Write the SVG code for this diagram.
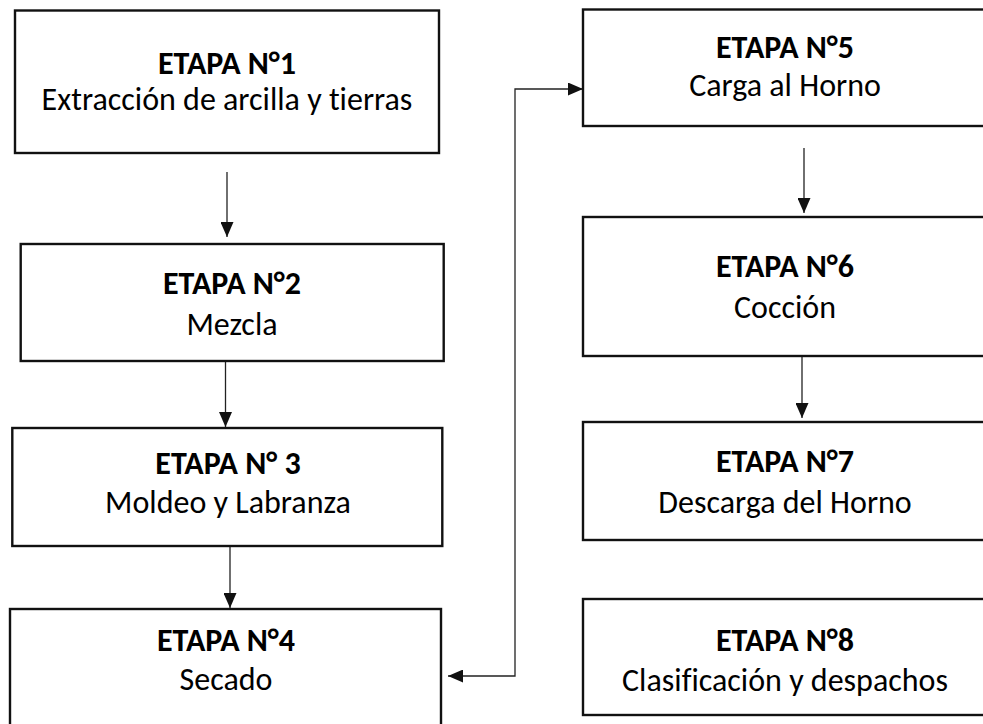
<svg xmlns="http://www.w3.org/2000/svg" width="983" height="724" viewBox="0 0 983 724">
<style>
.box{fill:#fff;stroke:#111;stroke-width:2.4}
.t{font-family:Carlito,Lato,"Liberation Sans",sans-serif;font-size:32px;fill:#000;text-anchor:middle;font-variant-ligatures:none;font-feature-settings:"liga" 0,"clig" 0}
.b{font-weight:bold}
.c{fill:none;stroke:#222;stroke-width:1.3}
</style>
<defs>
<marker id="ah" viewBox="0 0 15 13" refX="15" refY="6.5" markerWidth="15" markerHeight="13" markerUnits="userSpaceOnUse" orient="auto-start-reverse">
<path d="M0,0 L15,6.5 L0,13 z" fill="#111"/>
</marker>
</defs>
<rect width="983" height="724" fill="#fff"/>
<g id="connectors">
<path class="c" d="M227,172 V237" marker-end="url(#ah)"/>
<path class="c" d="M225.5,361 V427" marker-end="url(#ah)"/>
<path class="c" d="M230,544 V608" marker-end="url(#ah)"/>
<path class="c" d="M804,148 V213" marker-end="url(#ah)"/>
<path class="c" d="M802,355 V418" marker-end="url(#ah)"/>
<path class="c" d="M448,676 H515 V89 H583" marker-start="url(#ah)" marker-end="url(#ah)"/>
</g>
<g id="n1">
<rect class="box" x="15" y="10.5" width="424" height="142.5"/>
<text class="t b" x="227" y="74">ETAPA N°1</text>
<text class="t" x="227" y="110">Extracción de arcilla y tierras</text>
</g>
<g id="n2">
<rect class="box" x="20.7" y="244" width="423" height="117"/>
<text class="t b" x="232" y="294">ETAPA N°2</text>
<text class="t" x="232" y="335">Mezcla</text>
</g>
<g id="n3">
<rect class="box" x="12.3" y="428" width="430" height="118"/>
<text class="t b" x="228" y="474">ETAPA N° 3</text>
<text class="t" x="228" y="513">Moldeo y Labranza</text>
</g>
<g id="n4">
<rect class="box" x="10" y="609" width="431" height="125"/>
<text class="t b" x="226" y="651">ETAPA N°4</text>
<text class="t" x="226" y="690">Secado</text>
</g>
<g id="n5">
<rect class="box" x="583" y="9.5" width="406" height="116.5"/>
<text class="t b" x="785" y="58">ETAPA N°5</text>
<text class="t" x="785" y="96">Carga al Horno</text>
</g>
<g id="n6">
<rect class="box" x="583" y="217" width="406" height="139"/>
<text class="t b" x="785" y="277">ETAPA N°6</text>
<text class="t" x="785" y="318">Cocción</text>
</g>
<g id="n7">
<rect class="box" x="583" y="422" width="406" height="118"/>
<text class="t b" x="785" y="472">ETAPA N°7</text>
<text class="t" x="785" y="513">Descarga del Horno</text>
</g>
<g id="n8">
<rect class="box" x="583" y="599" width="406" height="116"/>
<text class="t b" x="785" y="651">ETAPA N°8</text>
<text class="t" x="785" y="691">Clasificación y despachos</text>
</g>
</svg>
